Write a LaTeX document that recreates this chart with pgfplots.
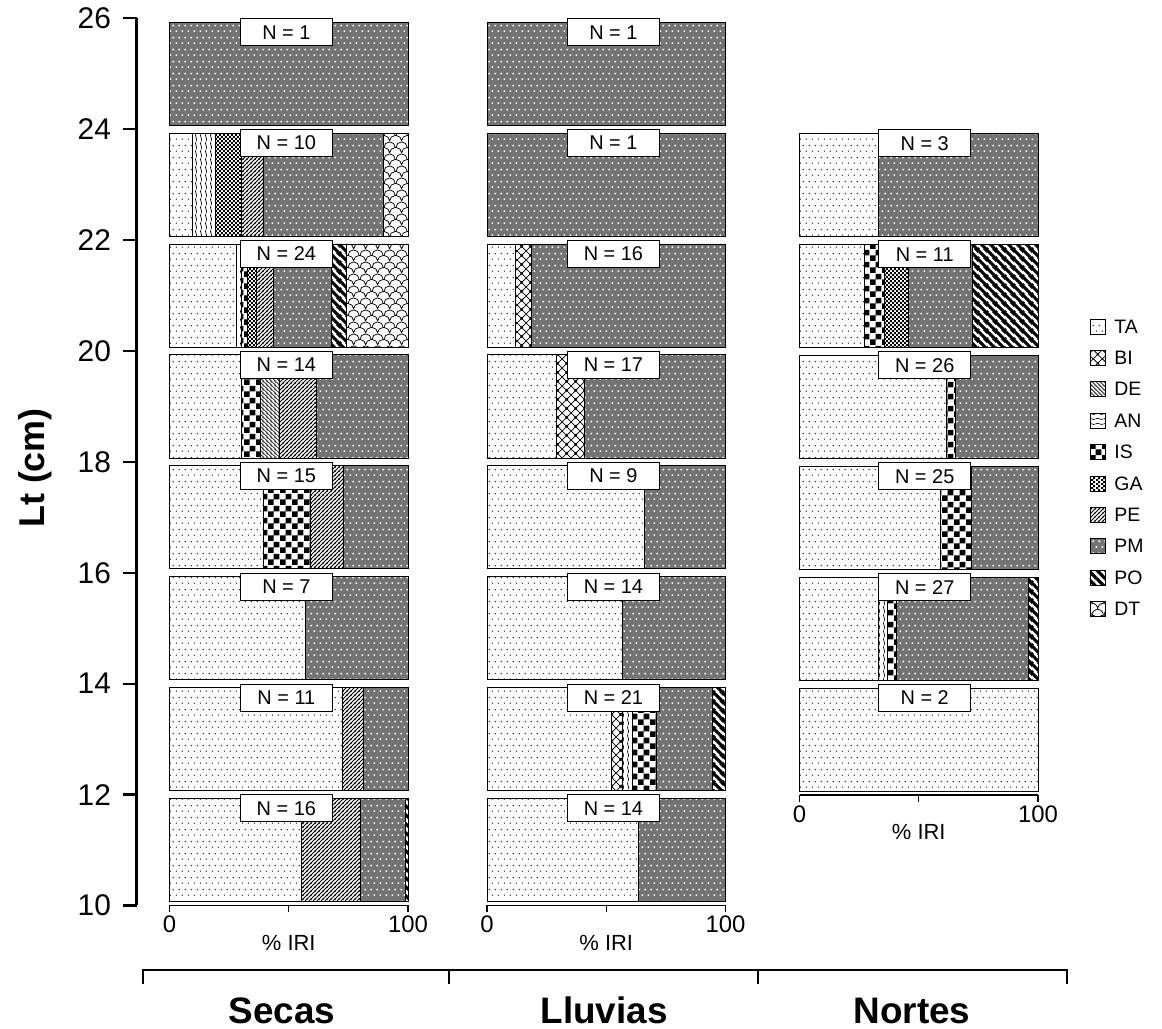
\documentclass[border=0pt]{standalone}
\usepackage{fontspec}
\setmainfont{Liberation Sans}
\usepackage{pgfplots}
\usepackage{pgfplotstable}
\pgfplotsset{compat=1.18}
\usetikzlibrary{patterns}

% ---------- fill patterns for the prey categories ----------
% sparse staggered dots
\pgfdeclarepatternformonly{ta}{\pgfpointorigin}{\pgfpoint{6.3bp}{12bp}}{\pgfpoint{6.3bp}{12bp}}{%
  \pgfpathcircle{\pgfpoint{1.5bp}{2bp}}{0.75bp}%
  \pgfpathcircle{\pgfpoint{4.65bp}{8bp}}{0.75bp}%
  \pgfusepath{fill}}
% white flecks laid over a grey ground
\pgfdeclarepatternformonly{pmd}{\pgfpointorigin}{\pgfpoint{6.3bp}{12bp}}{\pgfpoint{6.3bp}{12bp}}{%
  \pgfpathrectangle{\pgfpoint{0.6bp}{1.1bp}}{\pgfpoint{1.8bp}{1.8bp}}%
  \pgfpathrectangle{\pgfpoint{3.75bp}{7.1bp}}{\pgfpoint{1.8bp}{1.8bp}}%
  \pgfusepath{fill}}
% diagonal lines: name, period, line width
\newcommand\nwlines[3]{%
  \pgfdeclarepatternformonly{#1}{\pgfpointorigin}{\pgfpoint{#2}{#2}}{\pgfpoint{#2}{#2}}{%
    \pgfsetlinewidth{#3}%
    \pgfpathmoveto{\pgfpoint{-0.5*#2}{1.5*#2}}\pgfpathlineto{\pgfpoint{1.5*#2}{-0.5*#2}}%
    \pgfpathmoveto{\pgfpoint{-0.5*#2}{0.5*#2}}\pgfpathlineto{\pgfpoint{0.5*#2}{-0.5*#2}}%
    \pgfpathmoveto{\pgfpoint{0.5*#2}{1.5*#2}}\pgfpathlineto{\pgfpoint{1.5*#2}{0.5*#2}}%
    \pgfusepath{stroke}}}
\newcommand\nelines[3]{%
  \pgfdeclarepatternformonly{#1}{\pgfpointorigin}{\pgfpoint{#2}{#2}}{\pgfpoint{#2}{#2}}{%
    \pgfsetlinewidth{#3}%
    \pgfpathmoveto{\pgfpoint{-0.5*#2}{-0.5*#2}}\pgfpathlineto{\pgfpoint{1.5*#2}{1.5*#2}}%
    \pgfpathmoveto{\pgfpoint{-0.5*#2}{0.5*#2}}\pgfpathlineto{\pgfpoint{0.5*#2}{1.5*#2}}%
    \pgfpathmoveto{\pgfpoint{0.5*#2}{-0.5*#2}}\pgfpathlineto{\pgfpoint{1.5*#2}{0.5*#2}}%
    \pgfusepath{stroke}}}
\newcommand\xhatch[3]{%
  \pgfdeclarepatternformonly{#1}{\pgfpointorigin}{\pgfpoint{#2}{#2}}{\pgfpoint{#2}{#2}}{%
    \pgfsetlinewidth{#3}%
    \pgfpathmoveto{\pgfpoint{-0.5*#2}{-0.5*#2}}\pgfpathlineto{\pgfpoint{1.5*#2}{1.5*#2}}%
    \pgfpathmoveto{\pgfpoint{-0.5*#2}{0.5*#2}}\pgfpathlineto{\pgfpoint{0.5*#2}{1.5*#2}}%
    \pgfpathmoveto{\pgfpoint{0.5*#2}{-0.5*#2}}\pgfpathlineto{\pgfpoint{1.5*#2}{0.5*#2}}%
    \pgfpathmoveto{\pgfpoint{-0.5*#2}{1.5*#2}}\pgfpathlineto{\pgfpoint{1.5*#2}{-0.5*#2}}%
    \pgfpathmoveto{\pgfpoint{-0.5*#2}{0.5*#2}}\pgfpathlineto{\pgfpoint{0.5*#2}{-0.5*#2}}%
    \pgfpathmoveto{\pgfpoint{0.5*#2}{1.5*#2}}\pgfpathlineto{\pgfpoint{1.5*#2}{0.5*#2}}%
    \pgfusepath{stroke}}}
% checkerboard: name, square side
\newcommand\checker[2]{%
  \pgfdeclarepatternformonly{#1}{\pgfpointorigin}{\pgfpoint{2*#2}{2*#2}}{\pgfpoint{2*#2}{2*#2}}{%
    \pgfpathrectangle{\pgfpointorigin}{\pgfpoint{#2}{#2}}%
    \pgfpathrectangle{\pgfpoint{#2}{#2}}{\pgfpoint{#2}{#2}}%
    \pgfusepath{fill}}}
\nwlines{de}{4bp}{0.8bp}
\nelines{pe}{4.2bp}{0.9bp}
\nwlines{po}{8.5bp}{3.2bp}
\xhatch{bi}{9bp}{0.8bp}
\checker{is}{5.8bp}
\checker{ga}{2.2bp}
% wavy lines (vertical in the bars, horizontal in the key)
\pgfdeclarepatternformonly{anv}{\pgfpointorigin}{\pgfpoint{4.5bp}{8bp}}{\pgfpoint{4.5bp}{8bp}}{%
  \pgfsetlinewidth{0.7bp}%
  \pgfpathmoveto{\pgfpoint{2.25bp}{-0.2bp}}%
  \pgfpathcurveto{\pgfpoint{4.6bp}{2.67bp}}{\pgfpoint{-0.1bp}{5.33bp}}{\pgfpoint{2.25bp}{8.2bp}}%
  \pgfusepath{stroke}}
\pgfdeclarepatternformonly{anh}{\pgfpointorigin}{\pgfpoint{8bp}{4.5bp}}{\pgfpoint{8bp}{4.5bp}}{%
  \pgfsetlinewidth{0.7bp}%
  \pgfpathmoveto{\pgfpoint{-0.2bp}{2.25bp}}%
  \pgfpathcurveto{\pgfpoint{2.67bp}{4.6bp}}{\pgfpoint{5.33bp}{-0.1bp}}{\pgfpoint{8.2bp}{2.25bp}}%
  \pgfusepath{stroke}}
% fish scales
\pgfdeclarepatternformonly{dt}{\pgfpointorigin}{\pgfpoint{12bp}{12bp}}{\pgfpoint{12bp}{12bp}}{%
  \pgfsetlinewidth{0.8bp}%
  \pgfpathmoveto{\pgfpoint{0bp}{6bp}}\pgfpatharc{180}{0}{6bp}%
  \pgfpathmoveto{\pgfpoint{-6bp}{0bp}}\pgfpatharc{180}{0}{6bp}%
  \pgfpathmoveto{\pgfpoint{6bp}{0bp}}\pgfpatharc{180}{0}{6bp}%
  \pgfusepath{stroke}}

\tikzset{
  sTA/.style={draw=black, pattern=ta},
  sBI/.style={draw=black, pattern=bi},
  sDE/.style={draw=black, pattern=de},
  sAN/.style={draw=black, pattern=anv},
  sIS/.style={draw=black, pattern=is},
  sGA/.style={draw=black, pattern=ga},
  sPE/.style={draw=black, pattern=pe},
  sPM/.style={draw=black, fill=black!55, postaction={pattern=pmd, pattern color=white}},
  sPO/.style={draw=black, pattern=po},
  sDT/.style={draw=black, pattern=dt},
  nbox/.style={draw=black, line width=1bp, fill=white, minimum width=92bp,
    minimum height=27bp, inner sep=0pt, font=\fontsize{20}{24}\selectfont},
}
\pgfplotsset{
  legsq/.style={legend image code/.code={%
    \draw[##1, draw=black, line width=0.9bp] (0bp,-7.5bp) rectangle (15bp,7.5bp);}},
}

% %IRI by prey category for each 2 cm length class (class midpoint in y)
\pgfplotstableread{
y  TA   BI  DE  AN  IS   GA   PE   PM   PO  DT
11 55.5 0   0   0   0    0    24.7 18.6 1.2 0
13 72.5 0   0   0   0    0    8.8  18.7 0   0
15 56.9 0   0   0   0    0    0    43.1 0   0
17 39.4 0   0   0   19.9 0    13.7 27.0 0   0
19 30.3 0   8.0 0   7.7  0    15.8 38.2 0   0
21 27.9 0   0   2.4 2.3  3.9  7.0  24.5 6.3 25.7
23 9.6  0   0   9.5 0    10.9 9.6  50.1 0   10.3
25 0    0   0   0   0    0    0    100  0   0
}\secas
\pgfplotstableread{
y  TA   BI   DE AN  IS   GA PE PM   PO  DT
11 63.7 0    0  0   0    0  0  36.3 0   0
13 52.3 4.6  0  4.2 10.0 0  0  23.5 5.4 0
15 56.7 0    0  0   0    0  0  43.3 0   0
17 66.2 0    0  0   0    0  0  33.8 0   0
19 29.3 11.4 0  0   0    0  0  59.3 0   0
21 12.1 6.7  0  0   0    0  0  81.2 0   0
23 0    0    0  0   0    0  0  100  0   0
25 0    0    0  0   0    0  0  100  0   0
}\lluvias
\pgfplotstableread{
y  TA   BI DE AN  IS   GA   PE PM   PO   DT
13 100  0  0  0   0    0    0  0    0    0
15 33.1 0  0  3.9 3.8  0    0  55.4 3.8  0
17 59.3 0  0  0   12.6 0    0  28.1 0    0
19 61.4 0  0  0   3.8  0    0  34.8 0    0
21 27.1 0  0  0   8.5  10.0 0  27.0 27.4 0
23 33.1 0  0  0   0    0    0  66.9 0    0
}\nortes

\pgfplotsset{
  panel/.style={
    anchor=south west, scale only axis, width=238.5bp,
    xmin=0, xmax=100, xbar stacked, bar width=1.86,
    hide y axis, axis x line*=bottom, clip=false,
    xtick={0,50,100}, xticklabels={0,,100},
    tick align=outside, major tick length=7bp,
    every tick/.style={black, line width=1.1bp},
    axis line style={line width=1.1bp},
    xticklabel style={font=\fontsize{24}{28}\selectfont},
    xlabel={\% IRI},
    xlabel style={font=\fontsize{22}{26}\selectfont, at={(axis description cs:0.5,0)},
      anchor=center, yshift=-37bp},
    every axis plot/.append style={line width=0.9bp},
  },
}

\begin{document}
\begin{tikzpicture}
\path[use as bounding box] (0,0) rectangle (1162bp,1029bp);

% length axis
\begin{axis}[at={(136.5bp,123.5bp)}, anchor=south west, scale only axis,
  width=5bp, height=887.2bp, xmin=0, xmax=1, ymin=10, ymax=26,
  hide x axis, axis y line*=left, ytick={10,12,...,26},
  tick align=outside, major tick length=14bp,
  every tick/.style={black, line width=2.3bp},
  axis line style={line width=2.3bp},
  yticklabel style={font=\fontsize{30}{36}\selectfont, xshift=-8bp},
  /pgf/number format/assume math mode=true]
\end{axis}

% Secas
\begin{axis}[panel, at={(169.5bp,123.5bp)}, height=887.2bp, ymin=10, ymax=26,
  after end axis/.code={
    \node[nbox] at (axis cs:49,25.75) {N = 1};
    \node[nbox] at (axis cs:49,23.75) {N = 10};
    \node[nbox] at (axis cs:49,21.75) {N = 24};
    \node[nbox] at (axis cs:49,19.75) {N = 14};
    \node[nbox] at (axis cs:49,17.75) {N = 15};
    \node[nbox] at (axis cs:49,15.75) {N = 7};
    \node[nbox] at (axis cs:49,13.75) {N = 11};
    \node[nbox] at (axis cs:49,11.75) {N = 16};
  }]
\pgfplotsinvokeforeach{TA,BI,AN,IS,DE,GA,PE,PM,PO,DT}{
  \addplot[s#1] table[x=#1, y=y]{\secas};
}
\end{axis}

% Lluvias
\begin{axis}[panel, at={(487bp,123.5bp)}, height=887.2bp, ymin=10, ymax=26,
  after end axis/.code={
    \node[nbox] at (axis cs:53,25.75) {N = 1};
    \node[nbox] at (axis cs:53,23.75) {N = 1};
    \node[nbox] at (axis cs:53,21.75) {N = 16};
    \node[nbox] at (axis cs:53,19.75) {N = 17};
    \node[nbox] at (axis cs:53,17.75) {N = 9};
    \node[nbox] at (axis cs:53,15.75) {N = 14};
    \node[nbox] at (axis cs:53,13.75) {N = 21};
    \node[nbox] at (axis cs:53,11.75) {N = 14};
  }]
\pgfplotsinvokeforeach{TA,BI,DE,AN,IS,GA,PE,PM,PO,DT}{
  \addplot[s#1] table[x=#1, y=y]{\lluvias};
}
\end{axis}

% Nortes, with the key
\begin{axis}[panel, at={(799.5bp,234bp)}, height=665.4bp, ymin=12, ymax=24,
  legend cell align=left,
  legend style={at={(1.216,0.716)}, anchor=north west, draw=none, fill=none,
    inner sep=0pt, outer sep=0pt, row sep=15.5bp, column sep=9bp,
    font=\fontsize{19.5}{20}\selectfont,
    nodes={inner sep=0pt, text height=14bp, text depth=1bp}},
  after end axis/.code={
    \node[nbox] at (axis cs:52.5,23.75) {N = 3};
    \node[nbox] at (axis cs:52.5,21.75) {N = 11};
    \node[nbox] at (axis cs:52.5,19.75) {N = 26};
    \node[nbox] at (axis cs:52.5,17.75) {N = 25};
    \node[nbox] at (axis cs:52.5,15.75) {N = 27};
    \node[nbox] at (axis cs:52.5,13.75) {N = 2};
  }]
\addlegendimage{sTA, legsq}\addlegendentry{TA}
\addlegendimage{sBI, legsq}\addlegendentry{BI}
\addlegendimage{sDE, legsq}\addlegendentry{DE}
\addlegendimage{draw=black, pattern=anh, legsq}\addlegendentry{AN}
\addlegendimage{sIS, legsq}\addlegendentry{IS}
\addlegendimage{sGA, legsq}\addlegendentry{GA}
\addlegendimage{sPE, legsq}\addlegendentry{PE}
\addlegendimage{sPM, legsq}\addlegendentry{PM}
\addlegendimage{sPO, legsq}\addlegendentry{PO}
\addlegendimage{sDT, legsq}\addlegendentry{DT}
\pgfplotsinvokeforeach{TA,BI,DE,AN,IS,GA,PE,PM,PO,DT}{
  \addplot[s#1, forget plot] table[x=#1, y=y]{\nortes};
}
\end{axis}

% axis title and season brackets
\node[rotate=90, font=\fontsize{36}{40}\selectfont\bfseries] at (35bp,561bp) {Lt (cm)};
\draw[line width=2.3bp] (143bp,45bp) -- (143bp,59bp) -- (1067bp,59bp) -- (1067bp,45bp);
\draw[line width=2.3bp] (449bp,59bp) -- (449bp,45bp);
\draw[line width=2.3bp] (758bp,59bp) -- (758bp,45bp);
\node[anchor=base, font=\fontsize{37}{40}\selectfont\bfseries] at (282bp,6bp) {Secas};
\node[anchor=base, font=\fontsize{37}{40}\selectfont\bfseries] at (604bp,6bp) {Lluvias};
\node[anchor=base, font=\fontsize{37}{40}\selectfont\bfseries] at (912bp,6bp) {Nortes};
\end{tikzpicture}
\end{document}
